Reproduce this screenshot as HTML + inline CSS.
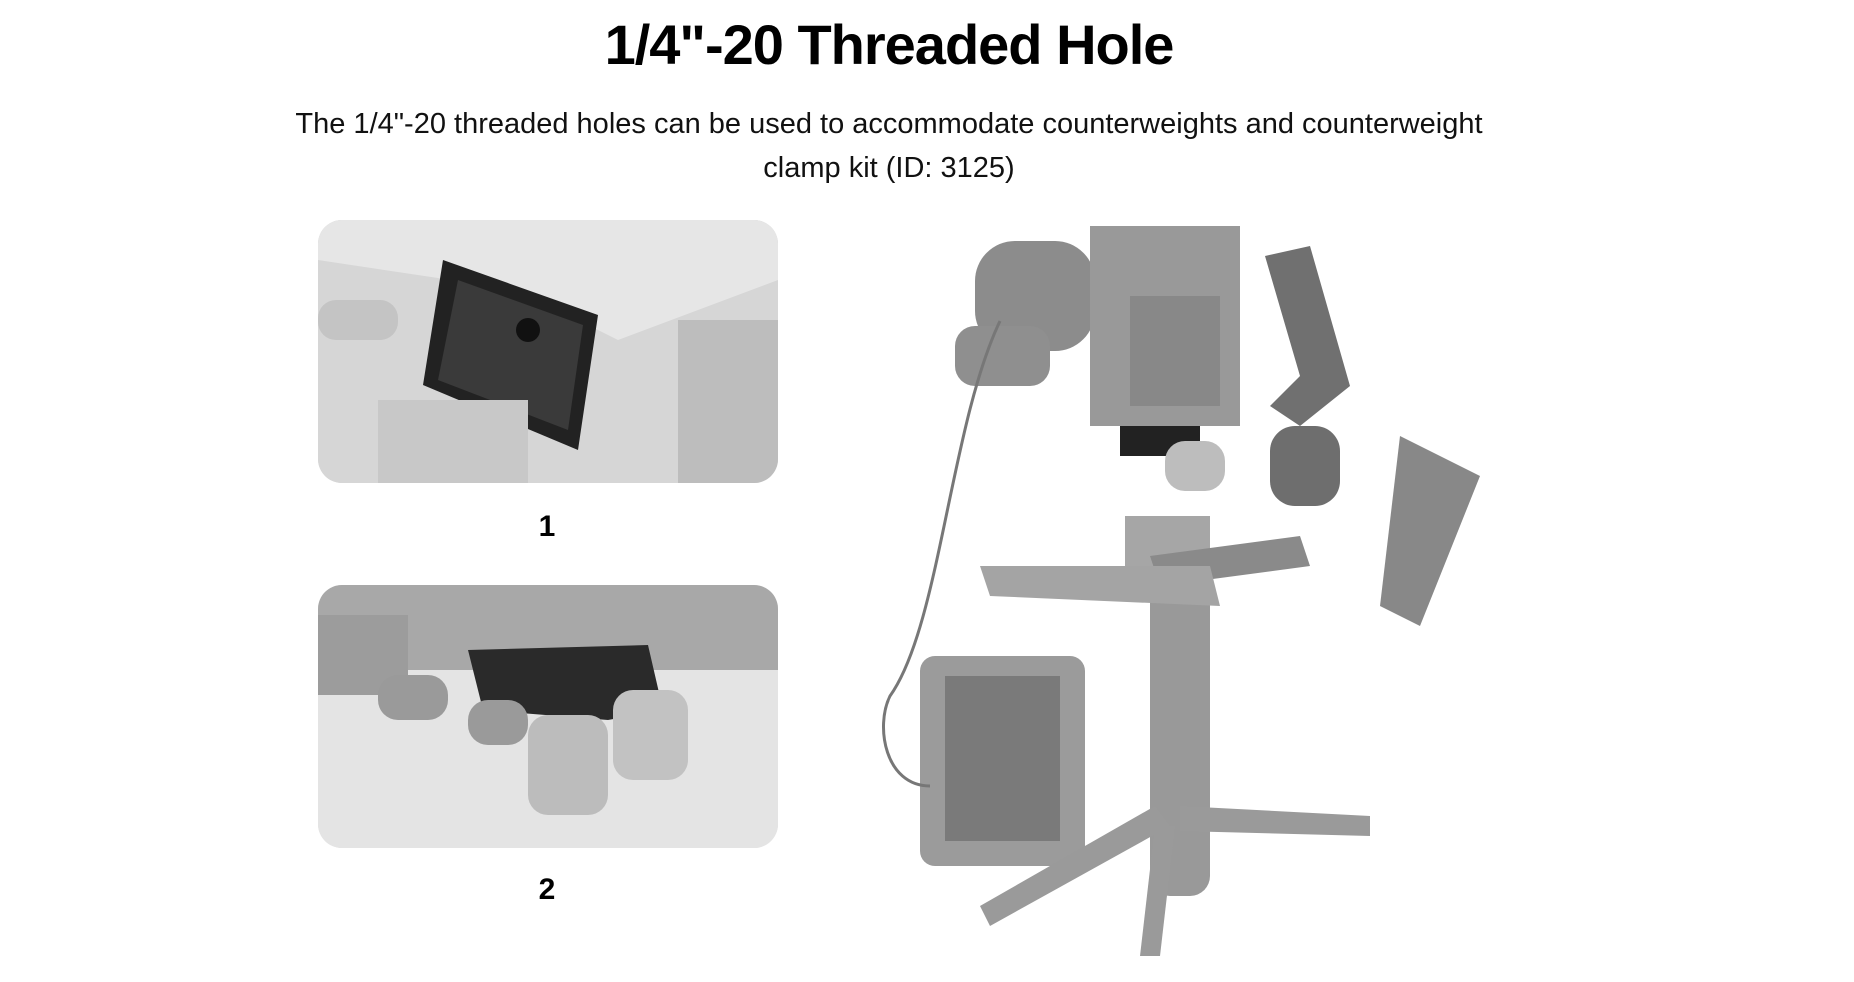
<!DOCTYPE html>
<html><head><style>
body{margin:0;width:1854px;height:982px;background:#fff;position:relative;overflow:hidden;font-family:"Liberation Sans",sans-serif}
.t{position:absolute;left:489px;width:800px;text-align:center;top:12px;font-size:56px;font-weight:bold;letter-spacing:-1px;color:#000}
.s{position:absolute;left:259px;width:1260px;text-align:center;top:102px;font-size:29px;line-height:44px;color:#111}
.p{position:absolute;left:318px;width:460px;height:263px;border-radius:24px;background:#d8d8d8;overflow:hidden}
.n{position:absolute;left:530px;width:34px;text-align:center;font-size:30px;font-weight:bold}
</style></head><body>
<div class="t">1/4"-20 Threaded Hole</div>
<div class="s">The 1/4"-20 threaded holes can be used to accommodate counterweights and counterweight clamp kit (ID: 3125)</div>
<div class="p" style="top:220px">
<svg width="460" height="263">
<rect width="460" height="263" fill="#d6d6d6"/>
<polygon points="0,0 460,0 460,60 300,120 200,70 0,40" fill="#e6e6e6"/>
<rect x="0" y="80" width="80" height="40" rx="18" fill="#c4c4c4"/>
<polygon points="125,40 280,95 260,230 105,165" fill="#222"/>
<polygon points="140,60 265,105 250,210 120,160" fill="#3a3a3a"/>
<circle cx="210" cy="110" r="12" fill="#111"/>
<rect x="360" y="100" width="100" height="163" fill="#bdbdbd"/>
<rect x="60" y="180" width="150" height="83" fill="#c8c8c8"/>
</svg></div>
<div class="n" style="top:510px">1</div>
<div class="p" style="top:585px">
<svg width="460" height="263">
<rect width="460" height="263" fill="#e4e4e4"/>
<rect x="0" y="0" width="460" height="85" fill="#a8a8a8"/>
<rect x="0" y="30" width="90" height="80" fill="#9c9c9c"/>
<polygon points="150,65 330,60 345,125 290,135 165,125" fill="#2a2a2a"/>
<rect x="60" y="90" width="70" height="45" rx="20" fill="#9a9a9a"/>
<rect x="150" y="115" width="60" height="45" rx="20" fill="#9a9a9a"/>
<rect x="210" y="130" width="80" height="100" rx="20" fill="#bcbcbc"/>
<rect x="295" y="105" width="75" height="90" rx="20" fill="#c2c2c2"/>
</svg></div>
<div class="n" style="top:873px">2</div>
<svg style="position:absolute;left:880px;top:226px" width="610" height="735">
<g fill="#9e9e9e">
<rect x="95" y="15" width="120" height="110" rx="40" fill="#8c8c8c"/>
<rect x="210" y="0" width="150" height="200" fill="#999"/>
<rect x="250" y="70" width="90" height="110" fill="#888"/>
<rect x="75" y="100" width="95" height="60" rx="20" fill="#8f8f8f"/>
<rect x="240" y="200" width="80" height="30" fill="#222"/>
<rect x="285" y="215" width="60" height="50" rx="20" fill="#bdbdbd"/>
<polygon points="385,30 430,20 470,160 420,200 390,180 420,150" fill="#707070"/>
<rect x="390" y="200" width="70" height="80" rx="25" fill="#6e6e6e"/>
<polygon points="520,210 600,250 540,400 500,380" fill="#888"/>
<rect x="245" y="290" width="85" height="70" fill="#a6a6a6"/>
<polygon points="270,330 420,310 430,340 280,360" fill="#8a8a8a"/>
<rect x="270" y="340" width="60" height="330" rx="20" fill="#999"/>
<rect x="40" y="430" width="165" height="210" rx="15" fill="#9b9b9b"/>
<rect x="65" y="450" width="115" height="165" fill="#7a7a7a"/>
<polygon points="275,580 290,600 110,700 100,680" fill="#9a9a9a"/>
<polygon points="300,580 490,590 490,610 300,605" fill="#9a9a9a"/>
<polygon points="275,600 295,600 280,730 260,730" fill="#9a9a9a"/>
<polygon points="100,340 330,340 340,380 110,370" fill="#a4a4a4"/>
</g>
<path d="M 120 95 C 70 200 60 400 10 470 C -5 500 5 560 50 560" fill="none" stroke="#777" stroke-width="3"/>
</svg>
</body></html>
